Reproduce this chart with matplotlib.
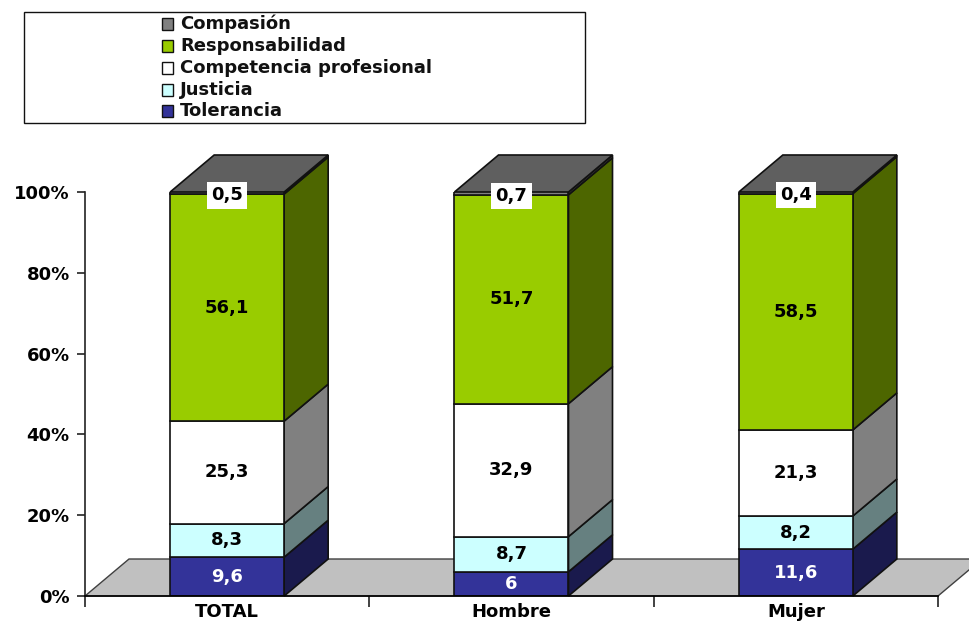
import numpy as np
import matplotlib.pyplot as plt
from matplotlib.patches import Polygon, Rectangle

plt.rcParams['font.family'] = ['DejaVu Sans']
plt.rcParams['font.weight'] = 'bold'

categories = ['TOTAL', 'Hombre', 'Mujer']
series = ['Tolerancia', 'Justicia', 'Competencia profesional', 'Responsabilidad', 'Compasión']
tolerancia = [9.6, 6, 11.6]
justicia = [8.3, 8.7, 8.2]
competencia = [25.3, 32.9, 21.3]
responsabilidad = [56.1, 51.7, 58.5]
compasion = [0.5, 0.7, 0.4]
front_colors = ['#333399', '#CCFFFF', '#FFFFFF', '#99CC00', '#808080']
side_colors = ['#1A1A4D', '#668080', '#808080', '#4D6600', '#404040']
top_color = '#5F5F5F'
label_colors = ['white', 'black', 'black', 'black', 'black']

W, H = 969, 624
FS = 13
fig = plt.figure(figsize=(W / 100, H / 100), dpi=100)
ax = fig.add_axes([85 / W, (H - 596) / H, 853 / W, 404 / H])
ax.set_xlim(0, 3)
ax.set_ylim(0, 100)

bar_w = 114 / (853 / 3)
dx = 44 / (853 / 3)   # depth of the fake 3d
dy = 37 / 4.04

# floor
ax.add_patch(Polygon([(0, 0), (dx, dy), (3 + dx, dy), (3, 0)], closed=True, facecolor='#C0C0C0',
                     edgecolor='#404040', lw=1, clip_on=False, zorder=1))

values = np.array([tolerancia, justicia, competencia, responsabilidad, compasion], dtype=float)
values_pct = values / values.sum(axis=0) * 100
xs = np.arange(len(categories)) + 0.5

for i, x in enumerate(xs):
    bottom = 0
    l = x - bar_w / 2
    r = x + bar_w / 2
    for j in range(len(series)):
        h = values_pct[j, i]
        ax.bar(x, h, bar_w, bottom=bottom, color=front_colors[j], edgecolor='#111111', lw=1.2, zorder=3)
        ax.add_patch(Polygon([(r, bottom), (r + dx, bottom + dy), (r + dx, bottom + h + dy), (r, bottom + h)],
                             closed=True, facecolor=side_colors[j], edgecolor='#111111', lw=1.2,
                             clip_on=False, zorder=2))
        bottom += h
    ax.add_patch(Polygon([(l, 100), (l + dx, 100 + dy), (r + dx, 100 + dy), (r, 100)], closed=True,
                         facecolor=top_color, edgecolor='#111111', lw=1.2, clip_on=False, zorder=2))
    # labels go on afterwards so the white boxes stay on top
    bottom = 0
    for j in range(len(series)):
        h = values_pct[j, i]
        txt = f'{values[j, i]:g}'.replace('.', ',')
        if j == 4:
            ax.text(x, bottom + h / 2 - 0.6, txt, ha='center', va='center', fontsize=FS, color='black', zorder=5,
                    bbox=dict(facecolor='white', edgecolor='none', pad=3), clip_on=False)
        else:
            ax.text(x, bottom + h / 2, txt, ha='center', va='center', fontsize=FS, color=label_colors[j], zorder=5)
        bottom += h

ax.set_yticks(np.arange(0, 101, 20))
ax.set_yticklabels([f'{v}%' for v in range(0, 101, 20)], fontsize=FS)
ax.set_xticks(np.arange(0, 4))
ax.set_xticklabels([])
ax.set_xticks(xs, categories, minor=True, fontsize=FS)
ax.tick_params(axis='x', which='major', length=8, width=1.2, color='#222222')
ax.tick_params(axis='x', which='minor', length=0, pad=5)
ax.tick_params(axis='y', length=6, width=1.2, color='#222222', pad=5)
ax.spines['top'].set_visible(False)
ax.spines['right'].set_visible(False)
ax.spines['left'].set_color('#222222')
ax.spines['left'].set_linewidth(1.2)
ax.spines['bottom'].set_color('#000000')
ax.spines['bottom'].set_linewidth(1.2)
ax.spines['bottom'].set_zorder(4)

# legend box, top entry first
fig.add_artist(Rectangle((24 / W, 1 - 123 / H), 561 / W, 111 / H, transform=fig.transFigure,
                         facecolor='white', edgecolor='#111111', lw=1))
rows = [24, 46, 68, 90, 111]
for y, j in zip(rows, range(len(series) - 1, -1, -1)):
    fig.add_artist(Rectangle((162 / W, 1 - (y + 5.5) / H), 11 / W, 11 / H, transform=fig.transFigure,
                             facecolor=front_colors[j], edgecolor='#111111', lw=1))
    fig.text(180 / W, 1 - y / H, series[j], fontsize=FS, va='center', ha='left', color='#111111')

fig.savefig('out.png', dpi=100)
